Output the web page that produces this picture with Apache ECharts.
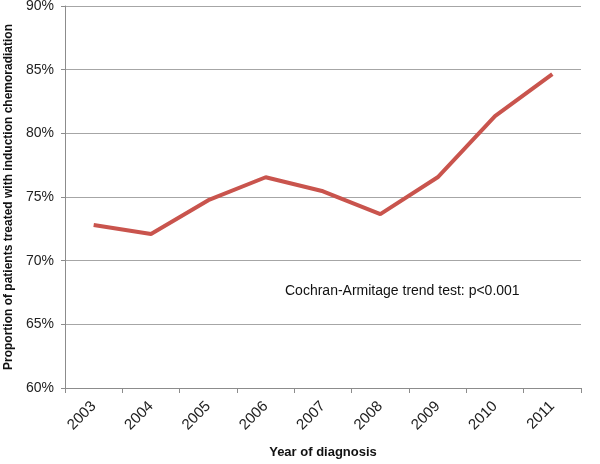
<!DOCTYPE html>
<html><head><meta charset="utf-8">
<script src="https://cdn.jsdelivr.net/npm/echarts@6/dist/echarts.min.js"></script>
<style>html,body{margin:0;padding:0;background:#fff}#c{width:600px;height:464px}</style>
</head><body><div id="c"></div>
<script>
var years = ['2003','2004','2005','2006','2007','2008','2009','2010','2011'];
var proportions = [72.8, 72.1, 74.75, 76.55, 75.45, 73.65, 76.55, 81.35, 84.65];
var yTicks = [60, 65, 70, 75, 80, 85, 90];
var annotation = 'Cochran-Armitage trend test: p<0.001';

var chart = echarts.init(document.getElementById('c'));
var font = 'Liberation Sans, Arial, sans-serif';
chart.setOption({
  animation: false,
  grid: {left: 65, right: 19, top: 6, bottom: 76, containLabel: false, outerBoundsMode: 'none'},
  xAxis: {
    type: 'category', data: years, boundaryGap: true,
    name: 'Year of diagnosis', nameLocation: 'middle', nameGap: 58,
    nameTextStyle: {fontFamily: font, fontSize: 13, fontWeight: 'bold', color: '#111'},
    axisLine: {lineStyle: {color: '#8c8c8c', width: 1}},
    axisTick: {show: true, length: 5, lineStyle: {color: '#8c8c8c'}},
    axisLabel: {rotate: 45, fontFamily: font, fontSize: 15, color: '#222', margin: 16}
  },
  yAxis: {
    type: 'value', min: yTicks[0], max: yTicks[yTicks.length-1], interval: 5,
    name: 'Proportion of patients treated with induction chemoradiation',
    nameLocation: 'middle', nameGap: 48, nameRotate: 90,
    nameTextStyle: {fontFamily: font, fontSize: 12, fontWeight: 'bold', color: '#111'},
    axisLine: {show: true, lineStyle: {color: '#8c8c8c', width: 1}},
    axisTick: {show: true, length: 4, lineStyle: {color: '#8c8c8c'}},
    splitLine: {lineStyle: {color: '#a6a6a6', width: 1}},
    axisLabel: {formatter: '{value}%', fontFamily: font, fontSize: 14, color: '#222', margin: 11}
  },
  series: [{
    type: 'line', data: proportions, symbol: 'none',
    lineStyle: {color: '#c9544d', width: 4}
  }],
  graphic: [{
    type: 'text', left: 285, top: 284,
    style: {text: annotation, font: '14px ' + font, fill: '#111'}
  }]
});
</script></body></html>
